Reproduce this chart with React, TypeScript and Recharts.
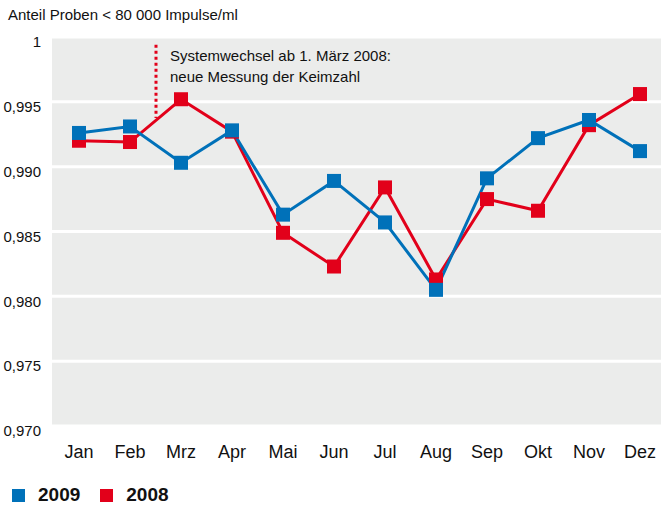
import {
  LineChart,
  Line,
  XAxis,
  YAxis,
  CartesianGrid,
  ReferenceLine,
} from 'recharts'

const months = ['Jan', 'Feb', 'Mrz', 'Apr', 'Mai', 'Jun', 'Jul', 'Aug', 'Sep', 'Okt', 'Nov', 'Dez']
const values2009 = [0.9926, 0.9931, 0.9903, 0.9928, 0.9863, 0.9889, 0.9857, 0.9805, 0.9891, 0.9922, 0.9936, 0.9912]
const values2008 = [0.992, 0.9919, 0.9952, 0.9927, 0.9849, 0.9823, 0.9884, 0.9813, 0.9875, 0.9866, 0.9932, 0.9956]
const yTicks = [0.97, 0.975, 0.98, 0.985, 0.99, 0.995, 1]

const BLUE = '#0071b9'
const RED = '#e2001a'
const FONT = '"Liberation Sans", Arial, sans-serif'

const data = months.map((m, i) => ({ month: m, y2009: values2009[i], y2008: values2008[i] }))

const fmtTick = (v: number) => (v === 1 ? '1' : v.toFixed(3).replace('.', ','))

// square marker
const Square = (color: string) => (props: any) => {
  const { cx, cy } = props
  if (cx == null || cy == null) return null
  return <rect x={cx - 7} y={cy - 7} width={14} height={14} fill={color} />
}

// dotted marker line sits between Feb and Mrz, so shift it by half a step
const ShiftedLine = (props: any) => {
  const { x1, y1, y2 } = props
  const x = x1 + 26
  return <line x1={x} x2={x} y1={y1} y2={y2} stroke={RED} strokeWidth={3} strokeDasharray="3 3" />
}

export default function App() {
  return (
    <div style={{ position: 'absolute', left: 0, top: 0, width: 661, height: 509, background: '#fff' }}>
      <div style={{ position: 'absolute', left: 8, top: 6, fontFamily: FONT, fontSize: 15, color: '#111' }}>
        Anteil Proben &lt; 80 000 Impulse/ml
      </div>
      <div style={{ position: 'absolute', left: 170, top: 45, fontFamily: FONT, fontSize: 15, lineHeight: '21px', color: '#111', zIndex: 2 }}>
        Systemwechsel ab 1. März 2008:
        <br />
        neue Messung der Keimzahl
      </div>
      <LineChart
        width={661}
        height={509}
        data={data}
        margin={{ top: 37, right: 0, left: 0, bottom: 53 }}
      >
        <CartesianGrid vertical={false} fill="#ebeceb" stroke="#ffffff" strokeWidth={3} />
        <XAxis
          dataKey="month"
          scale="point"
          padding={{ left: 27, right: 21 }}
          axisLine={false}
          tickLine={false}
          tick={{ fill: '#111', fontSize: 18, fontFamily: FONT }}
          dy={11}
        />
        <YAxis
          width={52}
          domain={[0.97, 1]}
          ticks={yTicks}
          tickFormatter={fmtTick}
          axisLine={false}
          tickLine={false}
          interval={0}
          tick={{ fill: '#111', fontSize: 15, fontFamily: FONT }}
          dy={5}
          dx={-3}
        />
        <ReferenceLine
          segment={[{ x: 'Feb', y: 0.9994 }, { x: 'Feb', y: 0.99375 }]}
          shape={ShiftedLine}
        />
        <Line
          dataKey="y2008"
          stroke={RED}
          strokeWidth={3}
          dot={Square(RED)}
          activeDot={false}
          isAnimationActive={false}
        />
        <Line
          dataKey="y2009"
          stroke={BLUE}
          strokeWidth={3}
          dot={Square(BLUE)}
          activeDot={false}
          isAnimationActive={false}
        />
      </LineChart>
      <div style={{ position: 'absolute', left: 12, top: 484, display: 'flex', alignItems: 'center', fontFamily: FONT, fontWeight: 700, fontSize: 19, color: '#111' }}>
        <span style={{ width: 13, height: 13, background: BLUE, display: 'inline-block' }} />
        <span style={{ marginLeft: 13 }}>2009</span>
        <span style={{ width: 13, height: 13, background: RED, display: 'inline-block', marginLeft: 20 }} />
        <span style={{ marginLeft: 13 }}>2008</span>
      </div>
    </div>
  )
}
